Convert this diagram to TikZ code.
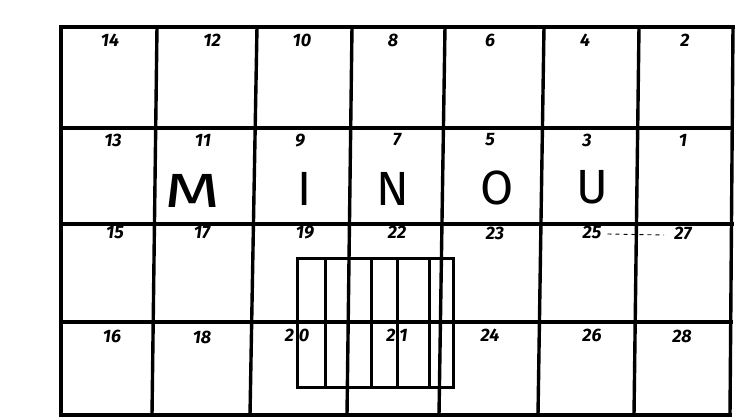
\documentclass[tikz,border=0pt]{standalone}
\usepackage{fontspec}
\setmainfont{Fira Sans}
\begin{document}
\begin{tikzpicture}[x=1pt,y=-1pt,
  gridline/.style={line width=3.4pt,line cap=rect},
  barline/.style={line width=3pt,line cap=rect},
  num/.style={font=\fontsize{18}{18}\selectfont\bfseries\itshape,inner sep=0pt},
  bigletter/.style={font=\fontsize{48}{48}\selectfont,inner sep=0pt},
  dashline/.style={line width=0.9pt,dash pattern=on 4pt off 4pt}]
\useasboundingbox (0,0) rectangle (753,418);
% column lines (top x / bottom x)
\foreach \i/\t/\b in {0/61/61,1/157/152,2/257/250,3/352/347,4/445/439,5/544/538,6/639/634,7/733/730}{
  \coordinate (ct\i) at (\t,27);
  \coordinate (cb\i) at (\b,415);
  \draw[gridline] (ct\i) -- (cb\i);
}
% row lines
\foreach \j/\y/\r in {0/27/733,1/128/732,2/224/732,3/322/731,4/415/730}{
  \coordinate (rl\j) at (61,\y);
  \coordinate (rr\j) at (\r,\y);
  \draw[gridline] (rl\j) -- (rr\j);
}
% striped rectangle
\coordinate (bxa) at (297,258);
\coordinate (bxb) at (453,387);
\draw[barline] (bxa) rectangle (bxb);
\foreach \k/\x in {1/325,2/371,3/397,4/429}{
  \coordinate (bt\k) at (\x,258);
  \coordinate (bb\k) at (\x,387);
  \draw[barline] (bt\k) -- (bb\k);
}
% row 1 numbers
\node[num] (n14) at (110,40) {14};
\node[num] (n12) at (212,40) {12};
\node[num] (n10) at (302,40) {10};
\node[num] (n8) at (393,40) {8};
\node[num] (n6) at (490,40) {6};
\node[num] (n4) at (585,40) {4};
\node[num] (n2) at (685,40) {2};
% row 2 numbers
\node[num] (n13) at (113,140) {13};
\node[num] (n11) at (203,140) {11};
\node[num] (n9) at (300,141) {9};
\node[num] (n7) at (397,140) {7};
\node[num] (n5) at (490,140) {5};
\node[num] (n3) at (587,140) {3};
\node[num] (n1) at (683,140) {1};
% row 3 numbers
\node[num] (n15) at (115,233) {15};
\node[num] (n17) at (202,233) {17};
\node[num] (n19) at (305,233) {19};
\node[num] (n22) at (397,232) {22};
\node[num] (n23) at (495,233) {23};
\node[num] (n25) at (592,232) {25};
\node[num] (n27) at (683,233) {27};
% row 4 numbers
\node[num] (n16) at (112,336) {16};
\node[num] (n18) at (202,337) {18};
\node[num] (n20) at (297,335) {2\kern5pt 0};
\node[num] (n21) at (397,335) {2\kern4pt 1};
\node[num] (n24) at (490,335) {24};
\node[num] (n26) at (592,335) {26};
\node[num] (n28) at (682,336) {28};
% dashed link
\draw[dashline] (n25.east) ++(6pt,-2pt) coordinate (dsa) -- ([xshift=-10pt,yshift=-2pt]n27.west) coordinate (dsb);
% letters
\node[bigletter,xscale=1.5] (lm) at (193,191) {M};
\node[bigletter] (li) at (305,189) {I};
\node[bigletter] (ln) at (393,189) {N};
\node[bigletter] (lo) at (497,188) {O};
\node[bigletter] (lu) at (592,187) {U};
\end{tikzpicture}
\end{document}
